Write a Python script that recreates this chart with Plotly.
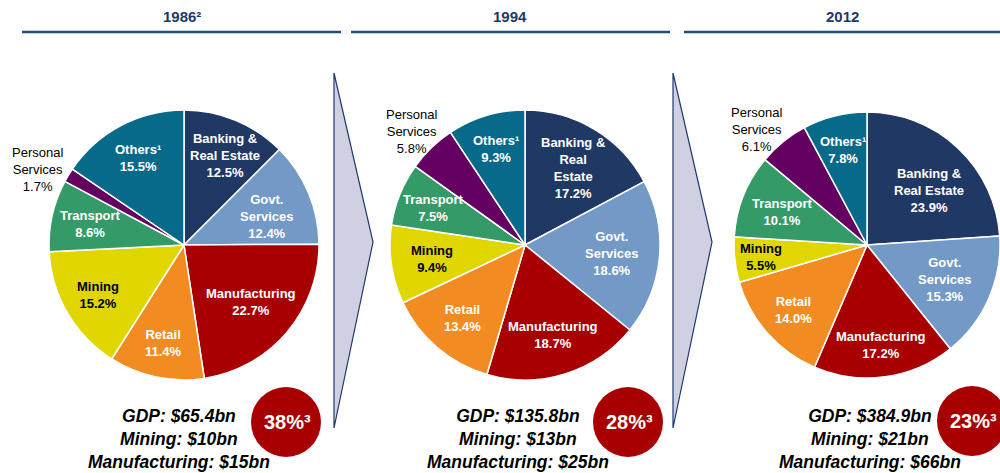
import math
import plotly.graph_objects as go

# ---- data -------------------------------------------------------------
years = ["1986²", "1994", "2012"]
sectors = ["Banking & Real Estate", "Govt. Services", "Manufacturing", "Retail",
           "Mining", "Transport", "Personal Services", "Others"]
shares_1986 = [12.5, 12.4, 22.7, 11.4, 15.2, 8.6, 1.7, 15.5]
shares_1994 = [17.2, 18.6, 18.7, 13.4, 9.4, 7.5, 5.8, 9.3]
shares_2012 = [23.9, 15.3, 17.2, 14.0, 5.5, 10.1, 6.1, 7.8]
gdp_bn = [65.4, 135.8, 384.9]
mining_bn = [10, 13, 21]
manufacturing_bn = [15, 25, 66]

# ---- styling ----------------------------------------------------------
W, H = 1000, 473
FONT = "Liberation Sans, Arial, sans-serif"
NAVY = "#1F3864"
RULE = "#1F4E79"
RED = "#A80000"
colors = ["#203864", "#7399C6", "#A80000", "#F28C22",
          "#E1D700", "#349A67", "#640062", "#076A8A"]

# label text per pie (line breaks differ between pies)
label_names = [
    ["Banking &<br>Real Estate", "Govt.<br>Services", "Manufacturing", "Retail",
     "Mining", "Transport", "Personal<br>Services", "Others¹"],
    ["Banking &<br>Real<br>Estate", "Govt.<br>Services", "Manufacturing", "Retail",
     "Mining", "Transport", "Personal<br>Services", "Others¹"],
    ["Banking &<br>Real Estate", "Govt.<br>Services", "Manufacturing", "Retail",
     "Mining", "Transport", "Personal<br>Services", "Others¹"],
]
label_colors = ["white", "white", "white", "white", "black", "white", "black", "white"]
label_bold = [True, True, True, True, True, True, False, True]
# radial position of each label, as a fraction of the pie radius
label_radius = [
    [0.73, 0.65, 0.65, 0.74, 0.74, 0.71, 1.22, 0.73],
    [0.67, 0.65, 0.70, 0.71, 0.70, 0.73, 1.19, 0.74],
    [0.62, 0.64, 0.76, 0.74, 0.80, 0.68, 1.20, 0.74],
]
# angular nudge of each label away from the slice bisector (degrees)
label_turn = [
    [2, 4, 0, 0, 0, 0, -4, 0],
    [1, 0, 0, 0, 0, 0, -1, 0],
    [6, 0, 0, 0, 0, 0, -4.5, 0],
]

# pixel geometry of the three pies
pie_centers = [(184, 245), (525, 245), (867, 245)]
pie_radius = [135, 135, 133]
header_spans = [(22, 341), (351, 670), (684, 1000)]
circle_centers = [(286, 422), (628, 422), (972, 421)]
circle_r = 35
text_cx = [179, 518, 870]
chevrons_x = [334, 673]


def px(x):
    return x / W


def py(y):
    return 1 - y / H


fig = go.Figure()
annotations = []
shapes = []

all_shares = [shares_1986, shares_1994, shares_2012]
for i, shares in enumerate(all_shares):
    cx, cy = pie_centers[i]
    r = pie_radius[i]
    fig.add_trace(go.Pie(
        labels=sectors,
        values=shares,
        sort=False,
        direction="clockwise",
        rotation=0,
        textinfo="none",
        hoverinfo="label+value",
        marker=dict(colors=colors, line=dict(color="white", width=1.5)),
        domain=dict(x=[px(cx - r), px(cx + r)], y=[py(cy + r), py(cy - r)]),
        showlegend=False,
    ))

    total = sum(shares)
    cum = 0.0
    for j, v in enumerate(shares):
        mid = (cum + v / 2) / total * 2 * math.pi + math.radians(label_turn[i][j])
        cum += v
        d = label_radius[i][j] * r
        lx = cx + d * math.sin(mid)
        ly = cy - d * math.cos(mid)
        txt = f"{label_names[i][j]}<br>{v:.1f}%"
        if label_bold[j]:
            txt = f"<b>{txt}</b>"
        annotations.append(dict(
            x=px(lx), y=py(ly), xref="paper", yref="paper",
            text=txt, showarrow=False, xanchor="center", yanchor="middle",
            align="center",
            font=dict(family=FONT, size=13, color=label_colors[j]),
        ))

    # header and rule
    x0, x1 = header_spans[i]
    annotations.append(dict(
        x=px((x0 + x1) / 2), y=py(17), xref="paper", yref="paper",
        text=f"<b>{years[i]}</b>", showarrow=False,
        xanchor="center", yanchor="middle",
        font=dict(family=FONT, size=15, color=NAVY),
    ))
    shapes.append(dict(type="line", xref="paper", yref="paper",
                       x0=px(x0), x1=px(x1), y0=py(32), y1=py(32),
                       line=dict(color=RULE, width=2.5)))

    # GDP summary
    annotations.append(dict(
        x=px(text_cx[i]), y=py(439), xref="paper", yref="paper",
        text=(f"<b><i>GDP: ${gdp_bn[i]:.1f}bn<br>"
              f"Mining: ${mining_bn[i]}bn<br>"
              f"Manufacturing: ${manufacturing_bn[i]}bn</i></b>"),
        showarrow=False, xanchor="center", yanchor="middle", align="center",
        font=dict(family=FONT, size=17.5, color="black"),
    ))

    # share of mining + manufacturing in GDP
    share = round((mining_bn[i] + manufacturing_bn[i]) / gdp_bn[i] * 100)
    ccx, ccy = circle_centers[i]
    shapes.append(dict(type="circle", xref="paper", yref="paper",
                       x0=px(ccx - circle_r), x1=px(ccx + circle_r),
                       y0=py(ccy + circle_r), y1=py(ccy - circle_r),
                       fillcolor=RED, line=dict(width=0), layer="above"))
    annotations.append(dict(
        x=px(ccx + 1), y=py(ccy), xref="paper", yref="paper",
        text=f"<b>{share}%³</b>", showarrow=False,
        xanchor="center", yanchor="middle",
        font=dict(family=FONT, size=20, color="white"),
    ))

# chevrons between the pies
for x0 in chevrons_x:
    path = (f"M {px(x0)},{py(73)} L {px(x0 + 39)},{py(242)} "
            f"L {px(x0)},{py(428)} Z")
    shapes.append(dict(type="path", xref="paper", yref="paper", path=path,
                       fillcolor="#D0D0E2", line=dict(color="#1F3A6E", width=1.2),
                       layer="below"))

fig.update_layout(
    width=W, height=H,
    margin=dict(l=0, r=0, t=0, b=0),
    paper_bgcolor="white", plot_bgcolor="white",
    annotations=annotations, shapes=shapes,
    font=dict(family=FONT),
)

fig.write_html("out.html")
